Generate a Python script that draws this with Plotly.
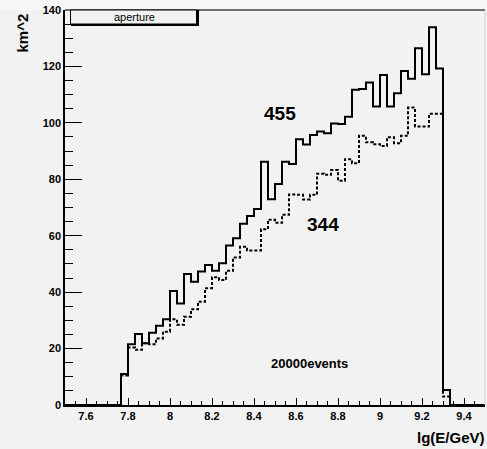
import numpy as np
import plotly.graph_objects as go

# Histogram binning: 60 bins from 7.5 to 9.5 in lg(E/GeV)
hist_min = 7.5
hist_max = 9.5
n_bins = 60
first_filled_bin = 8  # bins 0..7 are empty

# Aperture (km^2) per bin, bins 8..54
aperture_455 = [11.0, 21.5, 25.2, 21.9, 25.6, 28.1, 30.4, 40.4, 36.0, 46.4,
                43.7, 47.3, 49.6, 47.6, 50.2, 56.5, 59.1, 64.2, 67.0, 69.5,
                86.2, 72.9, 78.3, 86.2, 85.4, 94.2, 92.3, 95.7, 96.9, 96.3,
                99.8, 99.6, 102.2, 111.7, 112.0, 114.3, 105.8, 117.0, 105.8, 110.5,
                118.4, 115.6, 126.4, 117.2, 133.9, 119.3, 5.3]
aperture_344 = [10.5, 20.4, 19.6, 21.9, 21.5, 23.6, 26.0, 30.4, 28.4, 31.3,
                33.9, 36.6, 41.4, 45.3, 44.3, 47.6, 52.3, 56.1, 54.8, 54.8,
                62.3, 65.7, 64.6, 67.4, 74.6, 74.5, 72.8, 74.5, 82.0, 81.6,
                83.3, 79.5, 87.1, 85.7, 95.4, 93.1, 92.4, 91.8, 94.9, 92.8,
                95.4, 105.4, 98.7, 98.7, 103.2, 103.2, 3.0]

x_ticks = [7.6, 7.8, 8.0, 8.2, 8.4, 8.6, 8.8, 9.0, 9.2, 9.4]
x_tick_text = ["7.6", "7.8", "8", "8.2", "8.4", "8.6", "8.8", "9", "9.2", "9.4"]
y_ticks = [0, 20, 40, 60, 80, 100, 120, 140]

edges = np.linspace(hist_min, hist_max, n_bins + 1)


def full_counts(vals):
    c = np.zeros(n_bins)
    c[first_filled_bin:first_filled_bin + len(vals)] = vals
    return c


def step_xy(vals):
    c = full_counts(vals)
    xs = list(edges)
    ys = list(c) + [c[-1]]
    return xs, ys


BG = "#f2f2f2"
FONT = "Liberation Sans, Arial, sans-serif"
L, R, T, B = 65, 2, 10, 44
W, H = 487, 449
PW, PH = W - L - R, H - T - B


def px(xp):
    return (xp - L) / PW


def py(yp):
    return (H - B - yp) / PH


fig = go.Figure()
x1, y1 = step_xy(aperture_455)
x2, y2 = step_xy(aperture_344)
fig.add_trace(go.Scatter(x=x2, y=y2, mode="lines", line_shape="hv",
                         line=dict(color="black", width=2, dash="3px,2px"),
                         showlegend=False, name="344"))
fig.add_trace(go.Scatter(x=x1, y=y1, mode="lines", line_shape="hv",
                         line=dict(color="black", width=2),
                         showlegend=False, name="455"))

fig.update_layout(
    width=W, height=H,
    margin=dict(l=L, r=R, t=T, b=B),
    paper_bgcolor=BG, plot_bgcolor=BG,
    font=dict(family=FONT, color="black"),
    showlegend=False,
)
fig.update_xaxes(
    range=[hist_min, hist_max], showgrid=False, zeroline=False,
    showline=True, linecolor="black", linewidth=2,
    ticks="inside", ticklen=7, tickcolor="black", tickwidth=1,
    tickvals=x_ticks, ticktext=x_tick_text,
    tickfont=dict(size=11, family=FONT, weight="bold"),
    minor=dict(ticks="inside", ticklen=4, dtick=0.05, tick0=hist_min,
               tickcolor="black", tickwidth=1, showgrid=False),
)
fig.update_yaxes(
    range=[0, 140], showgrid=False, zeroline=False,
    showline=True, linecolor="black", linewidth=1.5,
    ticks="inside", ticklen=17, tickcolor="black", tickwidth=1,
    tickvals=y_ticks,
    tickfont=dict(size=11, family=FONT, weight="bold"),
    minor=dict(ticks="inside", ticklen=8, dtick=5, tick0=0,
               tickcolor="black", tickwidth=1, showgrid=False),
)

# lighter strip above the frame
fig.add_shape(type="rect", xref="paper", yref="paper", x0=px(0), x1=px(W),
              y0=1.0, y1=py(0), line=dict(width=0), fillcolor="#f7f7f7", layer="below")

# frame top / right
fig.add_shape(type="line", xref="paper", yref="paper", x0=0, x1=1, y0=1, y1=1,
              line=dict(color="#6e6e6e", width=2))
fig.add_shape(type="line", xref="paper", yref="paper", x0=px(485), x1=px(485), y0=0, y1=1,
              line=dict(color="#d0d0d0", width=1))

# title box "aperture" with shadow
fig.add_shape(type="rect", xref="paper", yref="paper",
              x0=px(72), x1=px(198), y0=py(25), y1=py(11),
              line=dict(color="black", width=2), fillcolor=BG)
fig.add_shape(type="rect", xref="paper", yref="paper",
              x0=px(70.5), x1=px(196.5), y0=py(24), y1=py(10),
              line=dict(color="black", width=1), fillcolor=BG)
fig.add_annotation(x=px(134), y=py(17), xref="paper", yref="paper",
                   text="aperture", showarrow=False, xanchor="center", yanchor="middle",
                   font=dict(size=11, family=FONT, color="black"))

# labels
fig.add_annotation(x=8.524, y=103.3, text="455", showarrow=False,
                   xanchor="center", yanchor="middle",
                   font=dict(size=19, family=FONT, weight="bold"))
fig.add_annotation(x=8.727, y=63.9, text="344", showarrow=False,
                   xanchor="center", yanchor="middle",
                   font=dict(size=19, family=FONT, weight="bold"))
fig.add_annotation(x=8.665, y=14.8, text="20000events", showarrow=False,
                   xanchor="center", yanchor="middle",
                   font=dict(size=13, family=FONT, weight="bold"))
fig.add_annotation(x=px(22.5), y=py(33), xref="paper", yref="paper", text="km^2",
                   showarrow=False, textangle=-90, xanchor="center", yanchor="middle",
                   font=dict(size=15, family=FONT, weight="bold"))
fig.add_annotation(x=px(487), y=py(437), xref="paper", yref="paper", text="lg(E/GeV)",
                   showarrow=False, xanchor="right", yanchor="middle",
                   font=dict(size=15, family=FONT, weight="bold"))

fig.write_html("out.html", config={"displayModeBar": False},
               post_script="document.body.style.margin='0px';document.body.style.overflow='hidden';")
